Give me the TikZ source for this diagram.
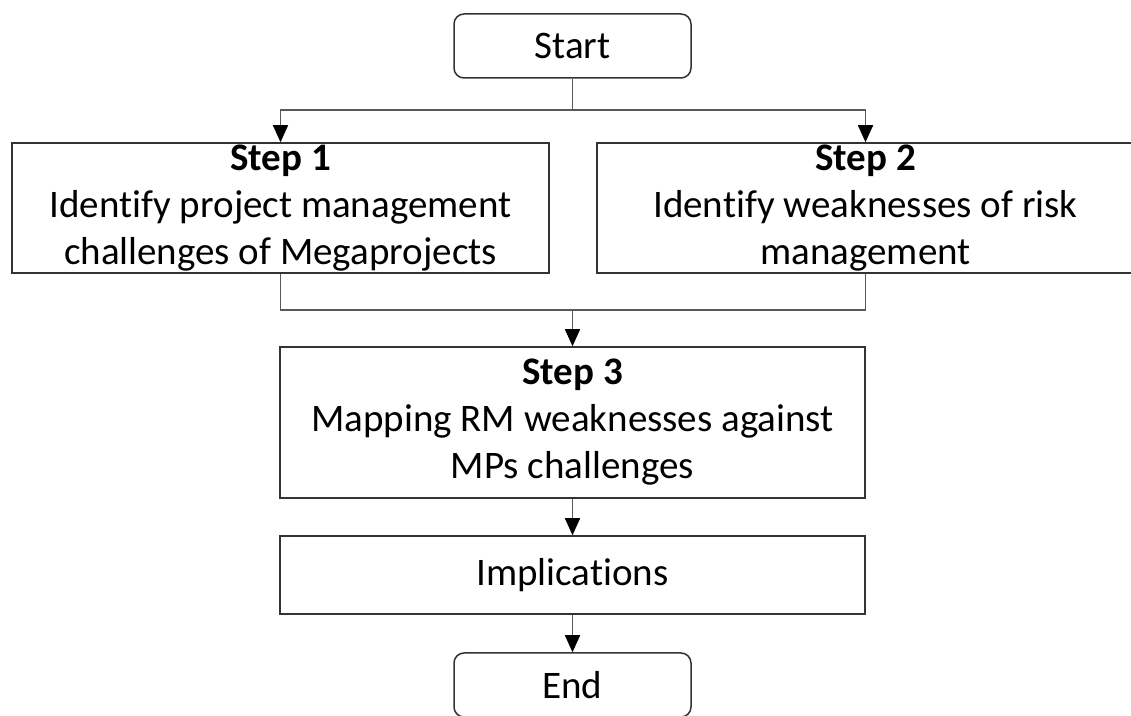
\documentclass[tikz,border=0pt]{standalone}
\usepackage{fontspec}
\setmainfont[Ligatures=NoCommon]{Carlito}
\usepackage{tikz}
\usetikzlibrary{arrows.meta,positioning,calc}
\tikzset{
  stepbox/.style={draw=black!80, line width=0.75pt, align=center, inner sep=0pt, font=\fontsize{19.5pt}{23.5pt}\selectfont},
  termbox/.style={stepbox, rounded corners=5pt, minimum width=118.5pt, minimum height=32pt},
  conn/.style={draw=black!65, line width=0.75pt},
  arrow/.style={conn, -{Triangle[length=8.5pt,width=7.5pt,color=black]}}
}

\begin{document}
\begin{tikzpicture}[x=0.5pt,y=-0.5pt]
\clip (0,0) rectangle (1131,716);
\node[termbox] (start) at (572.5,46) {Start};
\node[stepbox, minimum width=268.5pt, minimum height=65pt] (step1) at (280.5,208)
  {\textbf{Step 1}\\Identify project management\\challenges of Megaprojects};
\node[stepbox, minimum width=268.5pt, minimum height=65pt] (step2) at (865.5,208)
  {\textbf{Step 2}\\Identify weaknesses of risk\\management};
\node[stepbox, minimum width=292.5pt, minimum height=75.5pt] (step3) at (572.5,422.5)
  {\textbf{Step 3}\\Mapping RM weaknesses against\\MPs challenges};
\node[stepbox, minimum width=292.5pt, minimum height=39pt] (impl) at (572.5,575) {Implications};
\node[termbox] (end) at (572.5,685) {End};
\coordinate (split) at (572.5,110);
\coordinate (join) at (572.5,310);
\draw[conn] (start) -- (split);
\draw[arrow] (split) -| (step1.north);
\draw[arrow] (split) -| (step2.north);
\draw[conn] (step1.south) |- (join) -| (step2.south);
\draw[arrow] (join) -- (step3);
\draw[arrow] (step3) -- (impl);
\draw[arrow] (impl) -- (end);
\end{tikzpicture}
\end{document}
